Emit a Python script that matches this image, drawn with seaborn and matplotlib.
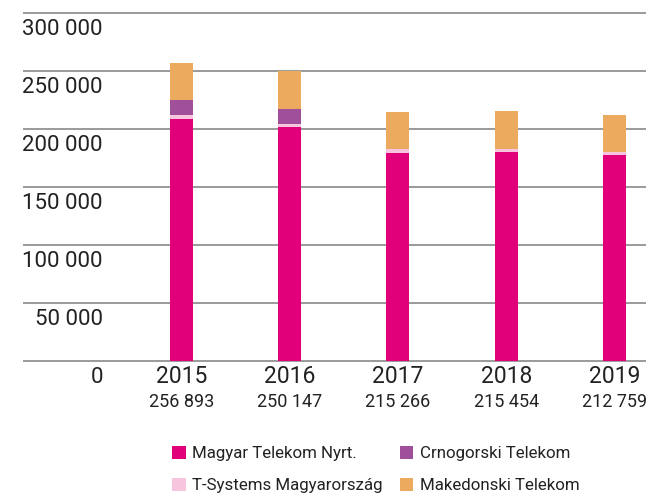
import numpy as np
import pandas as pd
import matplotlib
matplotlib.use("Agg")
import matplotlib.pyplot as plt
import seaborn as sns
from matplotlib.patches import Patch

# ---- data ----
years = ["2015", "2016", "2017", "2018", "2019"]
totals = [256893, 250147, 215266, 215454, 212759]
magyar = [209100, 202000, 179500, 180600, 177900]
tsystems = [3200, 2600, 3500, 2600, 2600]
crnogorski = [13100, 13060, 0, 0, 0]
makedonski = [31493, 32487, 32266, 32254, 32259]
series_names = ["Magyar Telekom Nyrt.", "T-Systems Magyarország",
                "Crnogorski Telekom", "Makedonski Telekom"]
yticks = [0, 50000, 100000, 150000, 200000, 250000, 300000]

colors = {
    "Magyar Telekom Nyrt.": "#E2007A",
    "T-Systems Magyarország": "#F7C6DE",
    "Crnogorski Telekom": "#A0509A",
    "Makedonski Telekom": "#ECAA5E",
}

sns.set_style("white")
plt.rcParams["font.family"] = ["Roboto", "DejaVu Sans"]
text_color = "#222222"

df = pd.DataFrame({
    "year": years,
    "Magyar Telekom Nyrt.": magyar,
    "T-Systems Magyarország": tsystems,
    "Crnogorski Telekom": crnogorski,
    "Makedonski Telekom": makedonski,
})
# cumulative stacks (draw tallest first, overlay smaller)
df["c1"] = df["Magyar Telekom Nyrt."]
df["c2"] = df["c1"] + df["T-Systems Magyarország"]
df["c3"] = df["c2"] + df["Crnogorski Telekom"]
df["c4"] = df["c3"] + df["Makedonski Telekom"]

W, H = 646, 493
fig = plt.figure(figsize=(W / 100, H / 100), dpi=100)
ax = fig.add_axes([23 / W, 0.2606, 1 - 23 / W, 0.7191])

bar_w = 0.2125
layers = [("c4", "Makedonski Telekom"), ("c3", "Crnogorski Telekom"),
          ("c2", "T-Systems Magyarország"), ("c1", "Magyar Telekom Nyrt.")]
for col, name in layers:
    sns.barplot(data=df, x="year", y=col, color=colors[name], saturation=1,
                width=bar_w, errorbar=None, linewidth=0, ax=ax, zorder=3)

ax.set_xlim(-1.464, 4.291)
ax.set_ylim(-3000, 303000)
for s in ax.spines.values():
    s.set_visible(False)
ax.set_xlabel("")
ax.set_ylabel("")

# gridlines
ax.set_yticks(yticks)
ax.yaxis.grid(True, color="#9a9a9a", linewidth=1.4)
ax.set_axisbelow(True)
ax.tick_params(axis="y", length=0, labelleft=False)

# y labels below each gridline
for v in yticks:
    lab = f"{v:,}".replace(",", " ")
    ax.annotate(lab, xy=(80 / 623, v), xycoords=ax.get_yaxis_transform(),
                xytext=(0, -4), textcoords="offset points",
                ha="right", va="top", fontsize=16, color=text_color)

# x labels: years + totals
ax.set_xticks(range(len(years)))
ax.set_xticklabels(years, fontsize=16.5, color=text_color)
ax.tick_params(axis="x", length=0, pad=0.5)
for i, t in enumerate(totals):
    ax.annotate(f"{t:,}".replace(",", " "), xy=(i, 0),
                xycoords=("data", "axes fraction"),
                xytext=(0, -20.5), textcoords="offset points",
                ha="center", va="top", fontsize=13, color=text_color)

handles = [Patch(facecolor=colors[n], edgecolor="none", label=n) for n in series_names]
leg = fig.legend(handles=handles, ncol=2, loc="upper left",
                 bbox_to_anchor=(172 / W, 1 - 446 / H), frameon=False,
                 fontsize=12.2, handlelength=0.8, handleheight=0.8,
                 handletextpad=0.4, columnspacing=1.0, labelspacing=0.98,
                 borderpad=0, borderaxespad=0)
for t in leg.get_texts():
    t.set_color(text_color)

fig.savefig("out.png", dpi=100)
